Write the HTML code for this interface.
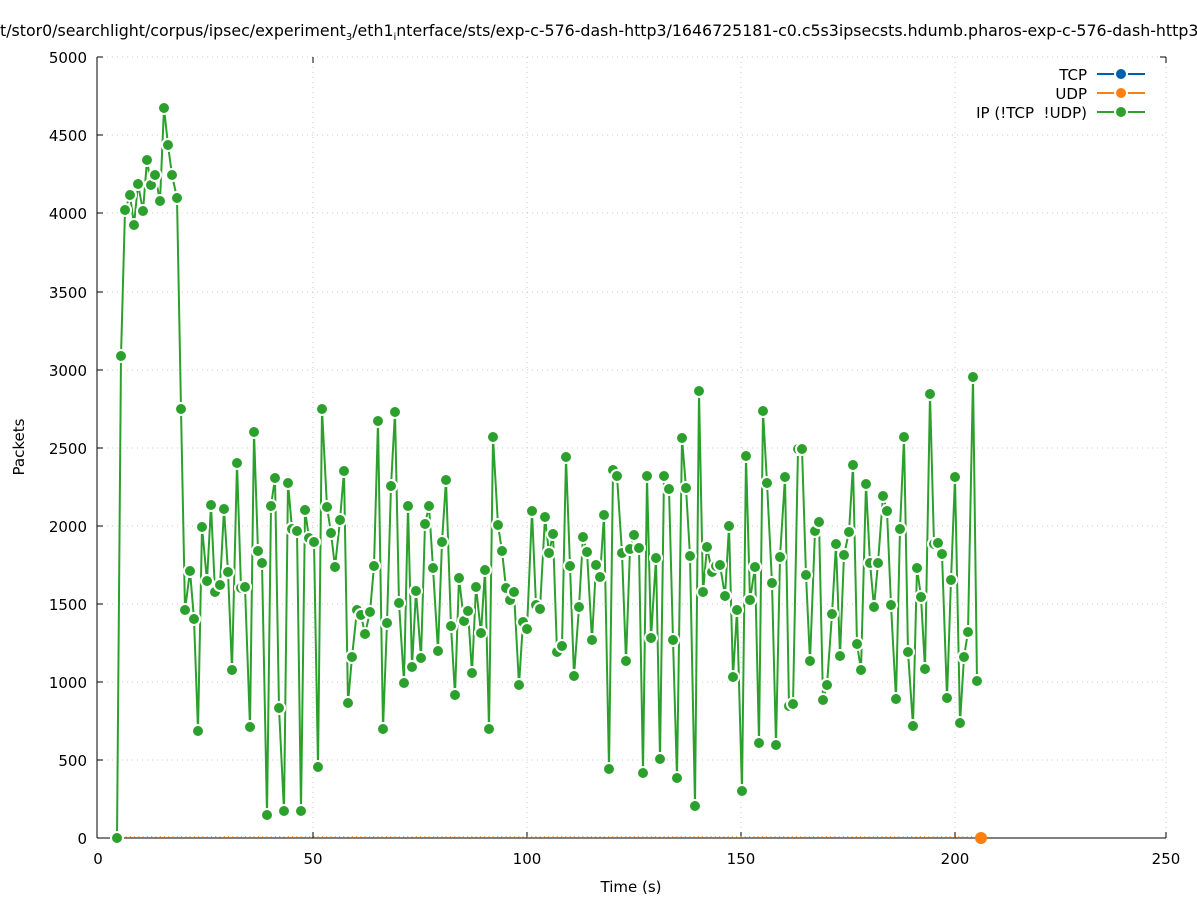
<!DOCTYPE html>
<html><head><meta charset="utf-8"><style>
body{margin:0;background:#fff}
svg text{font-family:"DejaVu Sans","Liberation Sans",sans-serif;fill:#000}
</style></head><body>
<svg width="1197" height="900" viewBox="0 0 1197 900" xmlns="http://www.w3.org/2000/svg">
<defs>
<marker id="m" viewBox="-8 -8 16 16" markerWidth="16" markerHeight="16" refX="0" refY="0" markerUnits="userSpaceOnUse">
<circle r="6" fill="#2ca02c" stroke="#fff" stroke-width="2"/>
</marker>
</defs>
<text x="0" y="36" font-size="15.8">t/stor0/searchlight/corpus/ipsec/experiment<tspan font-size="10" dy="4">3</tspan><tspan dy="-4">/eth1</tspan><tspan font-size="10" dy="4">i</tspan><tspan dy="-4">nterface/sts/exp-c-576-dash-http3/1646725181-c0.c5s3ipsecsts.hdumb.pharos-exp-c-576-dash-http3</tspan></text>
<g stroke="#c8c8c8" stroke-width="1" stroke-dasharray="1,4">
<line x1="97" y1="760" x2="1166" y2="760"/><line x1="97" y1="682" x2="1166" y2="682"/><line x1="97" y1="604" x2="1166" y2="604"/><line x1="97" y1="526" x2="1166" y2="526"/><line x1="97" y1="448" x2="1166" y2="448"/><line x1="97" y1="370" x2="1166" y2="370"/><line x1="97" y1="292" x2="1166" y2="292"/><line x1="97" y1="213" x2="1166" y2="213"/><line x1="97" y1="135" x2="1166" y2="135"/><line x1="97" y1="57" x2="1166" y2="57"/>
<line x1="313" y1="57" x2="313" y2="838"/><line x1="527" y1="57" x2="527" y2="838"/><line x1="741" y1="57" x2="741" y2="838"/><line x1="955" y1="57" x2="955" y2="838"/><line x1="1166" y1="57" x2="1166" y2="838"/>
</g>
<g stroke="#000" stroke-width="1">
<line x1="97" y1="57" x2="97" y2="838"/><line x1="97" y1="838" x2="1166" y2="838"/>
<line x1="97" y1="760" x2="103" y2="760"/><line x1="97" y1="682" x2="103" y2="682"/><line x1="97" y1="604" x2="103" y2="604"/><line x1="97" y1="526" x2="103" y2="526"/><line x1="97" y1="448" x2="103" y2="448"/><line x1="97" y1="370" x2="103" y2="370"/><line x1="97" y1="292" x2="103" y2="292"/><line x1="97" y1="213" x2="103" y2="213"/><line x1="97" y1="135" x2="103" y2="135"/><line x1="97" y1="57" x2="103" y2="57"/>
<line x1="313" y1="838" x2="313" y2="832"/><line x1="527" y1="838" x2="527" y2="832"/><line x1="741" y1="838" x2="741" y2="832"/><line x1="955" y1="838" x2="955" y2="832"/><line x1="1166" y1="838" x2="1166" y2="832"/>
<line x1="313" y1="57" x2="313" y2="63"/><line x1="1166" y1="57" x2="1160" y2="57"/><line x1="1166" y1="57" x2="1166" y2="63"/>
</g>
<g font-size="15" text-anchor="end">
<text x="87" y="844">0</text><text x="87" y="766">500</text><text x="87" y="688">1000</text><text x="87" y="610">1500</text><text x="87" y="532">2000</text><text x="87" y="454">2500</text><text x="87" y="376">3000</text><text x="87" y="298">3500</text><text x="87" y="219">4000</text><text x="87" y="141">4500</text><text x="87" y="63">5000</text>
</g>
<g font-size="15" text-anchor="middle">
<text x="98" y="864">0</text><text x="313" y="864">50</text><text x="527" y="864">100</text><text x="741" y="864">150</text><text x="955" y="864">200</text><text x="1166" y="864">250</text>
<text x="631" y="892">Time (s)</text>
</g>
<text x="24" y="447" font-size="15" text-anchor="middle" transform="rotate(-90 24 447)">Packets</text>
<line x1="117" y1="837" x2="981" y2="837" stroke="#ff7f0e" stroke-width="1.5" stroke-dasharray="1,3.27"/>
<circle cx="981" cy="838" r="6" fill="#ff7f0e"/>
<polyline fill="none" stroke="#fff" stroke-width="4" stroke-linejoin="round" points="117,838 121,356 125,210 130,195 134,225 138,184 143,211 147,160 151,185 155,175 160,201 164,108 168,145 172,175 177,198 181,409 185,610 190,571 194,619 198,731 202,527 207,581 211,505 215,592 220,585 224,509 228,572 232,670 237,463 241,588 245,587 250,727 254,432 258,551 262,563 267,815 271,506 275,478 279,708 284,811 288,483 292,529 297,531 301,811 305,510 309,538 314,542 318,767 322,409 327,507 331,533 335,567 340,520 344,471 348,703 352,657 357,610 361,615 365,634 370,612 374,566 378,421 383,729 387,623 391,486 395,412 399,603 404,683 408,506 412,667 416,591 421,658 425,524 429,506 433,568 438,651 442,542 446,480 451,626 455,695 459,578 464,621 468,611 472,673 476,587 481,633 485,570 489,729 493,437 498,525 502,551 506,588 510,600 514,592 519,685 523,622 527,629 532,511 536,605 540,609 545,517 549,553 553,534 557,652 562,646 566,457 570,566 574,676 579,607 583,537 587,552 592,640 596,565 600,577 604,515 609,769 613,470 617,476 622,553 626,661 630,549 634,535 639,548 643,773 647,476 651,638 656,558 660,759 664,476 669,489 673,640 677,778 682,438 686,488 690,556 695,806 699,391 703,592 707,547 712,572 716,566 720,565 725,596 729,526 733,677 737,610 742,791 746,456 750,600 755,567 759,743 763,411 767,483 772,583 776,745 780,557 785,477 789,706 793,704 798,449 802,449 806,575 810,661 815,531 819,522 823,700 827,685 832,614 836,544 840,656 844,555 849,532 853,465 857,644 861,670 866,484 870,563 874,607 878,563 883,496 887,511 891,605 896,699 900,529 904,437 908,652 913,726 917,568 921,597 925,669 930,394 934,544 938,543 942,554 947,698 951,580 955,477 960,723 964,657 968,632 973,377 977,681"/>
<polyline fill="none" stroke="#2ca02c" stroke-width="2" stroke-linejoin="round" marker-start="url(#m)" marker-mid="url(#m)" marker-end="url(#m)" points="117,838 121,356 125,210 130,195 134,225 138,184 143,211 147,160 151,185 155,175 160,201 164,108 168,145 172,175 177,198 181,409 185,610 190,571 194,619 198,731 202,527 207,581 211,505 215,592 220,585 224,509 228,572 232,670 237,463 241,588 245,587 250,727 254,432 258,551 262,563 267,815 271,506 275,478 279,708 284,811 288,483 292,529 297,531 301,811 305,510 309,538 314,542 318,767 322,409 327,507 331,533 335,567 340,520 344,471 348,703 352,657 357,610 361,615 365,634 370,612 374,566 378,421 383,729 387,623 391,486 395,412 399,603 404,683 408,506 412,667 416,591 421,658 425,524 429,506 433,568 438,651 442,542 446,480 451,626 455,695 459,578 464,621 468,611 472,673 476,587 481,633 485,570 489,729 493,437 498,525 502,551 506,588 510,600 514,592 519,685 523,622 527,629 532,511 536,605 540,609 545,517 549,553 553,534 557,652 562,646 566,457 570,566 574,676 579,607 583,537 587,552 592,640 596,565 600,577 604,515 609,769 613,470 617,476 622,553 626,661 630,549 634,535 639,548 643,773 647,476 651,638 656,558 660,759 664,476 669,489 673,640 677,778 682,438 686,488 690,556 695,806 699,391 703,592 707,547 712,572 716,566 720,565 725,596 729,526 733,677 737,610 742,791 746,456 750,600 755,567 759,743 763,411 767,483 772,583 776,745 780,557 785,477 789,706 793,704 798,449 802,449 806,575 810,661 815,531 819,522 823,700 827,685 832,614 836,544 840,656 844,555 849,532 853,465 857,644 861,670 866,484 870,563 874,607 878,563 883,496 887,511 891,605 896,699 900,529 904,437 908,652 913,726 917,568 921,597 925,669 930,394 934,544 938,543 942,554 947,698 951,580 955,477 960,723 964,657 968,632 973,377 977,681"/>
<g font-size="15" text-anchor="end">
<text x="1087" y="80">TCP</text><text x="1087" y="99">UDP</text><text x="1087" y="118" xml:space="preserve">IP (!TCP  !UDP)</text>
</g>
<g stroke-width="2">
<line x1="1097" y1="74" x2="1145" y2="74" stroke="#0060ad"/><circle cx="1121" cy="74" r="6" fill="#0060ad" stroke="#fff" stroke-width="2"/>
<line x1="1097" y1="93" x2="1145" y2="93" stroke="#ff7f0e"/><circle cx="1121" cy="93" r="6" fill="#ff7f0e" stroke="#fff" stroke-width="2"/>
<line x1="1097" y1="112" x2="1145" y2="112" stroke="#2ca02c"/><circle cx="1121" cy="112" r="6" fill="#2ca02c" stroke="#fff" stroke-width="2"/>
</g>
</svg>
</body></html>
